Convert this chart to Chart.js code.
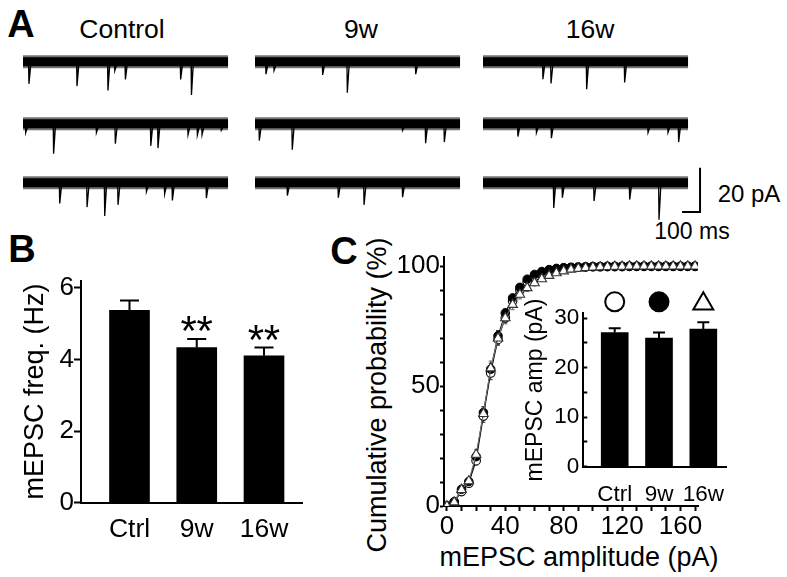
<!DOCTYPE html>
<html>
<head>
<meta charset="utf-8">
<script src="https://cdn.jsdelivr.net/npm/chart.js@4.4.1/dist/chart.umd.min.js"></script>
<style>
  body { margin: 0; background: #fff; }
  #fig { position: relative; width: 787px; height: 577px; overflow: hidden;
         font-family: "Liberation Sans", Arial, sans-serif; color: #000; }
  #fig canvas { position: absolute; }
  .lbl { position: absolute; transform: translate(-50%, -50%); line-height: 1; white-space: nowrap; }
  .panel { font-weight: bold; font-size: 38px; }
  .rot { transform: translate(-50%, -50%) rotate(-90deg); }
</style>
</head>
<body>
<div id="fig">
  <div class="lbl panel" style="left:21px;top:24px">A</div>
  <div class="lbl panel" style="left:22px;top:249px">B</div>
  <div class="lbl panel" style="left:344px;top:251px">C</div>

  <div class="lbl" style="left:122px;top:29px;font-size:26.5px">Control</div>
  <div class="lbl" style="left:361px;top:29px;font-size:26.5px">9w</div>
  <div class="lbl" style="left:590px;top:29px;font-size:26.5px">16w</div>
  <div class="lbl" style="left:749px;top:194px;font-size:24px">20 pA</div>
  <div class="lbl" style="left:692px;top:231px;font-size:23px">100 ms</div>

  <div class="lbl rot" style="left:377px;top:395px;font-size:27px">Cumulative probability (%)</div>
  <div class="lbl" style="left:579px;top:557px;font-size:27px">mEPSC amplitude (pA)</div>
</div>

<script>
const groups = ["Ctrl", "9w", "16w"];

// B: mEPSC frequency (Hz)
const freqMean = [5.37, 4.33, 4.10];
const freqSem = [0.27, 0.24, 0.23];
const freqStars = ["", "**", "**"];

// C inset: mEPSC amplitude (pA)
const ampMean = [27.1, 26.0, 27.8];
const ampSem = [0.9, 1.1, 1.4];

// C: cumulative probability (%) vs amplitude bin (pA)
const ampBins = [0, 5, 10, 15, 20, 25, 30, 35, 40, 45, 50, 55, 60, 65, 70, 75, 80, 85,
                 90, 95, 100, 105, 110, 115, 120, 125, 130, 135, 140, 145, 150, 155, 160, 165, 170];
const ctrlCum = [0, 1.5, 6.0, 9.5, 18.9, 37.5, 55.5, 69.5, 78.5, 85.5, 90.0, 93.5, 95.8, 97.3, 98.2, 98.8, 99.2, 99.4,
                 99.6, 99.7, 99.8, 99.8, 99.9, 99.9, 99.9, 100, 100, 100, 100, 100, 100, 100, 100, 100, 100];
const w9Cum = [0, 1.8, 7.0, 10.2, 20.6, 39.0, 57.1, 71.0, 80.5, 86.8, 91.2, 94.6, 96.6, 97.8, 98.6, 99.1, 99.4, 99.6,
               99.7, 99.8, 99.9, 99.9, 100, 100, 100, 100, 100, 100, 100, 100, 100, 100, 100, 100, 100];
const w16Cum = [0, 1.6, 6.8, 10.4, 21.5, 38.5, 57.5, 70.0, 78.4, 84.0, 88.2, 91.0, 93.0, 94.7, 96.1, 97.2, 98.0, 98.7,
                99.1, 99.4, 99.6, 99.7, 99.8, 99.9, 99.9, 100, 100, 100, 100, 100, 100, 100, 100, 100, 100];
const ctrlCumSem = [0, 0.4, 1.0, 1.2, 1.8, 2.6, 2.8, 2.4, 2.0, 1.7, 1.4, 1.1, 0.9, 0.7, 0.6, 0.5, 0.4, 0.3,
                    0.3, 0.2, 0.2, 0.2, 0.1, 0.1, 0.1, 0.1, 0.1, 0, 0, 0, 0, 0, 0, 0, 0];
const w9CumSem = [0, 0.4, 0.9, 1.1, 1.6, 2.4, 2.5, 2.2, 1.8, 1.5, 1.2, 0.9, 0.7, 0.5, 0.4, 0.3, 0.3, 0.2,
                  0.2, 0.1, 0.1, 0.1, 0, 0, 0, 0, 0, 0, 0, 0, 0, 0, 0, 0, 0];
const w16CumSem = [0, 0.5, 1.1, 1.3, 2.0, 2.8, 3.0, 2.7, 2.4, 2.1, 1.8, 1.5, 1.2, 1.0, 0.8, 0.6, 0.5, 0.4,
                   0.3, 0.3, 0.2, 0.2, 0.2, 0.1, 0.1, 0.1, 0, 0, 0, 0, 0, 0, 0, 0, 0];

// A: mEPSC events in each sweep, [time (ms), amplitude (pA)]
const traceMs = 1140;
const noisePa = 2.0;       // dense part of the baseline noise
const noiseEdgePa = 2.9;   // ragged edge of the noise
const ctrlEvents1 = [[33, 10], [300, 11], [472, 13], [510, 4], [569, 8], [876, 8], [936, 15]];
const ctrlEvents2 = [[15, 4], [170, 13.6], [408, 4], [513, 9], [710, 10], [750, 11], [917, 5], [969, 5], [995, 5], [1102, 3]];
const ctrlEvents3 = [[204, 9.4], [356, 11], [454, 15], [528, 10], [686, 4], [787, 5], [830, 8], [1019, 7]];
const w9Events1 = [[61, 5.6], [106, 4], [376, 6], [513, 14], [893, 5.6]];
const w9Events2 = [[24, 7.6], [207, 11.7], [820, 3], [948, 8.8], [1052, 8.3]];
const w9Events3 = [[180, 5.8], [463, 6.8], [606, 10], [820, 6.5]];
const w16Events1 = [[333, 7.9], [378, 9.8], [576, 12.4], [787, 9.4]];
const w16Events2 = [[194, 5.8], [297, 4], [380, 6.5], [917, 4], [1028, 4], [1087, 8.3]];
const w16Events3 = [[393, 11.4], [441, 6.8], [617, 8.3], [815, 7.6], [978, 16.7]];

// scale bar
const scaleBarMs = 100;
const scaleBarPa = 20;
const scaleBarCorner = [1206, -13.2];

Chart.defaults.font.family = "'Liberation Sans', Arial, sans-serif";
Chart.defaults.color = "#000";

const fig = document.getElementById("fig");
function addCanvas(left, top, w, h) {
  const c = document.createElement("canvas");
  c.width = w;
  c.height = h;
  c.style.left = left + "px";
  c.style.top = top + "px";
  fig.appendChild(c);
  return c;
}

/* error bars, drawn under the marks */
const errorBars = {
  id: "errorBars",
  beforeDatasetsDraw(chart) {
    const ctx = chart.ctx;
    chart.data.datasets.forEach((ds, di) => {
      if (!ds.errors) return;
      const meta = chart.getDatasetMeta(di);
      const ys = meta.yScale;
      ctx.save();
      ctx.strokeStyle = ds.errorColor || "#000";
      ctx.lineWidth = ds.errorWidth || 1;
      meta.data.forEach((el, i) => {
        const e = ds.errors[i];
        if (!e) return;
        const v = meta.controller.getParsed(i).y;
        const top = ys.getPixelForValue(v + e);
        const bot = ds.errorBoth ? ys.getPixelForValue(v - e) : el.y;
        const half = (ds.errorCap || 4) / 2;
        ctx.beginPath();
        ctx.moveTo(el.x, bot);
        ctx.lineTo(el.x, top);
        ctx.moveTo(el.x - half, top);
        ctx.lineTo(el.x + half, top);
        if (ds.errorBoth) {
          ctx.moveTo(el.x - half, bot);
          ctx.lineTo(el.x + half, bot);
        }
        ctx.stroke();
      });
      ctx.restore();
    });
  }
};

/* significance stars above the error bars */
const stars = {
  id: "stars",
  afterDatasetsDraw(chart) {
    const ctx = chart.ctx;
    const ds = chart.data.datasets[0];
    if (!ds.stars) return;
    const meta = chart.getDatasetMeta(0);
    ctx.save();
    ctx.font = "42px 'Liberation Sans', Arial";
    ctx.textAlign = "center";
    ctx.textBaseline = "alphabetic";
    ctx.fillStyle = "#000";
    meta.data.forEach((el, i) => {
      if (!ds.stars[i]) return;
      const v = meta.controller.getParsed(i).y;
      const y = meta.yScale.getPixelForValue(v + ds.errors[i]) + 6;
      const n = ds.stars[i].length;
      for (let k = 0; k < n; k++) {
        ctx.fillText("*", el.x + (k - (n - 1) / 2) * 16, y);
      }
    });
    ctx.restore();
  }
};

/* group symbols (legend of panel C) above the inset bars */
const groupSymbols = {
  id: "groupSymbols",
  afterDraw(chart) {
    const ctx = chart.ctx;
    const meta = chart.getDatasetMeta(0);
    const styles = ["openCircle", "filledCircle", "openTriangle"];
    ctx.save();
    ctx.lineWidth = 2;
    ctx.strokeStyle = "#000";
    meta.data.forEach((el, i) => {
      const y = chart.chartArea.top - 11.5;
      ctx.beginPath();
      if (styles[i] === "openTriangle") {
        const r = 11.5;
        const cy = y + 2;
        ctx.moveTo(el.x, cy - r);
        ctx.lineTo(el.x + r * 0.866, cy + r / 2);
        ctx.lineTo(el.x - r * 0.866, cy + r / 2);
        ctx.closePath();
      } else {
        ctx.arc(el.x, y, 9.5, 0, Math.PI * 2);
      }
      ctx.fillStyle = styles[i] === "filledCircle" ? "#000" : "#fff";
      ctx.fill();
      ctx.stroke();
    });
    ctx.restore();
  }
};

/* A: sweeps */
function traceChart(left, baseY, events, scaleBar) {
  const c = addCanvas(left, baseY - 17.7, 221, 62);
  const ev = [];
  events.forEach(([t, a]) => {
    ev.push({x: t - 2, y: -1}, {x: t, y: -a}, {x: t + 10, y: -1.5}, {x: t + 10, y: null});
  });
  const flat = y => [{x: 0, y: y}, {x: traceMs, y: y}];
  const datasets = [
    {data: flat(noiseEdgePa), fill: "+1", backgroundColor: "rgba(0,0,0,0.55)", borderWidth: 0, pointRadius: 0},
    {data: flat(-noiseEdgePa), fill: false, borderWidth: 0, pointRadius: 0},
    {data: flat(noisePa), fill: "+1", backgroundColor: "#000", borderWidth: 0, pointRadius: 0},
    {data: flat(-noisePa), fill: false, borderWidth: 0, pointRadius: 0},
    {data: ev, borderColor: "#000", borderWidth: 1.3, pointRadius: 0, spanGaps: false}
  ];
  if (scaleBar) {
    const [t, p] = scaleBarCorner;
    datasets.push({
      data: [{x: t - scaleBarMs, y: p}, {x: t, y: p}, {x: t, y: p + scaleBarPa}],
      borderColor: "#000", borderWidth: 2, pointRadius: 0, borderCapStyle: "butt", borderJoinStyle: "miter"
    });
  }
  new Chart(c, {
    type: "line",
    data: {datasets},
    options: {
      responsive: false, animation: false, events: [],
      layout: {padding: 0},
      plugins: {legend: {display: false}, tooltip: {enabled: false}},
      scales: {
        x: {type: "linear", display: false, min: 0, max: 1228},
        y: {display: false, min: -20, max: 8}
      }
    }
  });
}

const cols = [23.3, 255, 483.3];
const rows = [61.5, 124, 182.5];
traceChart(cols[0], rows[0], ctrlEvents1);
traceChart(cols[0], rows[1], ctrlEvents2);
traceChart(cols[0], rows[2], ctrlEvents3);
traceChart(cols[1], rows[0], w9Events1);
traceChart(cols[1], rows[1], w9Events2);
traceChart(cols[1], rows[2], w9Events3);
traceChart(cols[2], rows[0], w16Events1);
traceChart(cols[2], rows[1], w16Events2);
traceChart(cols[2], rows[2], w16Events3, true);

const axisLine = {color: "#000", width: 2};

/* B: frequency bars */
new Chart(addCanvas(0, 260, 320, 290), {
  type: "bar",
  data: {
    datasets: [{
      data: groups.map((g, i) => ({x: i + 1, y: freqMean[i]})),
      backgroundColor: "#000",
      barThickness: 40,
      errors: freqSem, errorCap: 19, errorWidth: 2,
      stars: freqStars
    }]
  },
  options: {
    responsive: false, animation: false, events: [],
    layout: {padding: {top: 20.5, right: 18, left: 0, bottom: 0}},
    plugins: {legend: {display: false}, tooltip: {enabled: false}},
    scales: {
      x: {
        type: "linear", min: 0.279, max: 3.565, offset: false,
        grid: {display: false, offset: false}, border: axisLine,
        afterBuildTicks: s => { s.ticks = groups.map((g, i) => ({value: i + 1})); },
        ticks: {callback: (v, i) => groups[i], font: {size: 26.5}, padding: 3, maxRotation: 0, autoSkip: false},
        afterFit: s => { s.height = 47.3; }
      },
      y: {
        min: 0, max: 6.2,
        ticks: {stepSize: 2, includeBounds: false, font: {size: 26}, padding: 0},
        grid: {drawOnChartArea: false, tickLength: 7, tickWidth: 2, color: "#000"},
        border: axisLine,
        title: {display: true, text: "mEPSC freq. (Hz)", font: {size: 27}, padding: {top: 19, bottom: 0}},
        afterFit: s => { s.width = 81; }
      }
    }
  },
  plugins: [errorBars, stars]
});

/* C: cumulative distributions */
const pts = arr => ampBins.map((x, i) => ({x: x, y: arr[i]}));
new Chart(addCanvas(390, 240, 330, 300), {
  type: "line",
  data: {
    datasets: [
      {label: "16w", data: pts(w16Cum), errors: w16CumSem, errorBoth: true, errorColor: "#666", errorCap: 4,
       borderColor: "#777", borderWidth: 1, pointStyle: "triangle", pointRadius: 5.5,
       pointBackgroundColor: "#fff", pointBorderColor: "#333", pointBorderWidth: 1.1},
      {label: "9w", data: pts(w9Cum), errors: w9CumSem, errorBoth: true, errorColor: "#333", errorCap: 4,
       borderColor: "#000", borderWidth: 1, pointStyle: "circle", pointRadius: 4.3,
       pointBackgroundColor: "#000", pointBorderColor: "#000", pointBorderWidth: 1},
      {label: "Ctrl", data: pts(ctrlCum), errors: ctrlCumSem, errorBoth: true, errorColor: "#333", errorCap: 4,
       borderColor: "#000", borderWidth: 1, pointStyle: "circle", pointRadius: 4.3,
       pointBackgroundColor: "#fff", pointBorderColor: "#000", pointBorderWidth: 1.1}
    ]
  },
  options: {
    responsive: false, animation: false, events: [],
    layout: {padding: {top: 16.7, right: 22, left: 0, bottom: 0}},
    plugins: {legend: {display: false}, tooltip: {enabled: false}},
    scales: {
      x: {
        type: "linear", min: -2, max: 172,
        ticks: {stepSize: 10, includeBounds: false, callback: v => (v % 40 === 0 ? v : ""),
                font: {size: 26}, padding: 0, maxRotation: 0, autoSkip: false},
        grid: {drawOnChartArea: false, tickLength: 5, tickWidth: 2, color: "#000"},
        border: axisLine,
        afterFit: s => { s.height = 34; }
      },
      y: {
        min: 0, max: 104,
        ticks: {stepSize: 10, includeBounds: false, callback: v => (v % 50 === 0 ? v : ""),
                font: {size: 26}, padding: 0, autoSkip: false},
        grid: {drawOnChartArea: false, tickLength: 4, tickWidth: 2, color: "#000"},
        border: axisLine,
        afterFit: s => { s.width = 54; }
      }
    }
  },
  plugins: [errorBars]
});

/* C inset: amplitude bars */
new Chart(addCanvas(500, 285, 240, 225), {
  type: "bar",
  data: {
    datasets: [{
      data: groups.map((g, i) => ({x: i + 1, y: ampMean[i]})),
      backgroundColor: "#000",
      barThickness: 27,
      errors: ampSem, errorCap: 12, errorWidth: 2
    }]
  },
  options: {
    responsive: false, animation: false, events: [],
    layout: {padding: {top: 28.3, right: 13.3, left: 0, bottom: 0}},
    plugins: {legend: {display: false}, tooltip: {enabled: false}},
    scales: {
      x: {
        type: "linear", min: 0.291, max: 3.528, offset: false,
        grid: {display: false, offset: false}, border: axisLine,
        afterBuildTicks: s => { s.ticks = groups.map((g, i) => ({value: i + 1})); },
        ticks: {callback: (v, i) => groups[i], font: {size: 22.5}, padding: 7, maxRotation: 0, autoSkip: false},
        afterFit: s => { s.height = 43.3; }
      },
      y: {
        min: 0, max: 31,
        ticks: {stepSize: 5, includeBounds: false, callback: v => (v % 10 === 0 ? v : ""),
                font: {size: 22.5}, padding: 8, autoSkip: false},
        grid: {drawOnChartArea: false, tickLength: -4, tickWidth: 2, color: "#000"},
        border: axisLine,
        title: {display: true, text: "mEPSC amp (pA)", font: {size: 23}, padding: {top: 22, bottom: 0}},
        afterFit: s => { s.width = 83.3; }
      }
    }
  },
  plugins: [errorBars, groupSymbols]
});
</script>
</body>
</html>
